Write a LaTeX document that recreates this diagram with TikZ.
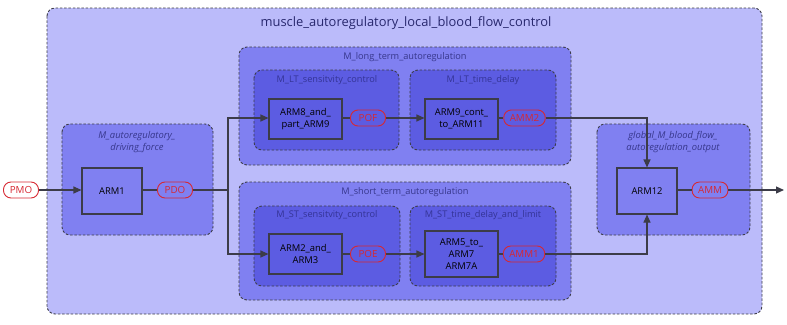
\documentclass[tikz,border=0pt]{standalone}
\usepackage{fontspec}
\setmainfont{Open Sans}
\usetikzlibrary{arrows.meta}
\definecolor{lvOne}{RGB}{187,187,250}
\definecolor{lvTwo}{RGB}{128,128,241}
\definecolor{lvThree}{RGB}{92,92,226}
\definecolor{edgeGrey}{RGB}{60,60,72}
\definecolor{titleBlue}{RGB}{40,40,110}
\definecolor{subBlue}{RGB}{55,55,140}
\definecolor{innerBlue}{RGB}{52,52,150}
\definecolor{sigRed}{RGB}{215,40,50}
\tikzset{
  grp/.style={draw=edgeGrey, dashed, dash pattern=on 2.5pt off 1.8pt, line width=0.9pt, rounded corners=8pt},
  blk/.style={draw=edgeGrey, line width=1.1pt, minimum width=60pt, minimum height=46pt, align=center, font=\fontsize{9.4}{12}\selectfont, text=black},
  sig/.style={draw=sigRed, line width=0.9pt, rounded corners=7.5pt, minimum width=35pt, minimum height=16pt, inner xsep=6pt, inner ysep=1pt, font=\fontsize{9.8}{10}\selectfont, text=sigRed},
  lbl/.style={font=\fontsize{9.2}{12}\selectfont, text=subBlue, align=center},
  ilbl/.style={lbl, text=innerBlue},
  itlbl/.style={lbl, font=\fontsize{9.4}{12.5}\selectfont\itshape},
  wire/.style={draw=edgeGrey, line width=1.1pt},
  arr/.style={wire, -{Triangle[length=8pt,width=7pt]}}
}
\begin{document}
\begin{tikzpicture}[x=1pt,y=-1pt]
\useasboundingbox (0,0) rectangle (787,324);
% containers
\draw[grp, fill=lvOne] (47,8) rectangle (762,314);
\node[font=\fontsize{12.9}{15}\selectfont, text=titleBlue] (title) at (406,23) {muscle\_autoregulatory\_local\_blood\_flow\_control};

\draw[grp, fill=lvTwo] (62,124) rectangle (213,235);
\node[itlbl] (drvlbl) at (137,142) {M\_autoregulatory\_\\driving\_force};

\draw[grp, fill=lvTwo] (239,47) rectangle (571,165);
\node[lbl] (ltlbl) at (405,57) {M\_long\_term\_autoregulation};
\draw[grp, fill=lvThree] (254,70) rectangle (399,150);
\node[ilbl] (ltslbl) at (327,80) {M\_LT\_sensitvity\_control};
\draw[grp, fill=lvThree] (410,70) rectangle (556,150);
\node[ilbl] (ltdlbl) at (483,80) {M\_LT\_time\_delay};

\draw[grp, fill=lvTwo] (239,182) rectangle (571,300);
\node[lbl] (stlbl) at (405,192) {M\_short\_term\_autoregulation};
\draw[grp, fill=lvThree] (254,206) rectangle (400,286);
\node[ilbl] (stslbl) at (327,215) {M\_ST\_sensitvity\_control};
\draw[grp, fill=lvThree] (410,206) rectangle (556,286);
\node[ilbl] (stdlbl) at (483,215) {M\_ST\_time\_delay\_and\_limit};

\draw[grp, fill=lvTwo] (597,124) rectangle (750,235);
\node[itlbl] (glblbl) at (673,142) {global\_M\_blood\_flow\_\\autoregulation\_output};

% blocks
\node[blk] (arm1) at (112,191) {ARM1};
\node[blk, minimum width=73pt, minimum height=40pt] (arm8) at (305.5,119) {ARM8\_and\_\\part\_ARM9};
\node[blk, minimum width=73pt, minimum height=40pt] (arm9) at (461.5,119) {ARM9\_cont\_\\to\_ARM11};
\node[blk, minimum width=73pt, minimum height=40pt] (arm2) at (305.5,254) {ARM2\_and\_\\ARM3};
\node[blk, minimum width=73pt, minimum height=46pt] (arm5) at (461.5,254) {ARM5\_to\_\\ARM7\\ARM7A};
\node[blk] (arm12) at (647,191) {ARM12};

% signals
\node[sig, fill=white] (pmo) at (21,190) {PMO};
\node[sig] (pdo) at (175,190) {PDO};
\node[sig] (pof) at (368,118) {POF};
\node[sig] (amm2) at (524.5,118) {AMM2};
\node[sig] (poe) at (368,254) {POE};
\node[sig] (amm1) at (524,254) {AMM1};
\node[sig] (amm) at (710,190) {AMM};
\coordinate (split) at (228,190);
\coordinate (out) at (784,190);

% connectors
\draw[arr] (pmo.east) -- (arm1.west |- pmo.east);
\draw[wire] (arm1.east |- pdo.west) -- (pdo.west);
\draw[wire] (pdo.east) -- (split);
\draw[arr] (split) |- (arm8.west |- pof.west);
\draw[arr] (split) |- (arm2.west |- poe.west);
\draw[wire] (arm8.east |- pof.west) -- (pof.west);
\draw[arr] (pof.east) -- (arm9.west |- pof.east);
\draw[wire] (arm9.east |- amm2.west) -- (amm2.west);
\draw[arr] (amm2.east) -| (arm12.north);
\draw[wire] (arm2.east |- poe.west) -- (poe.west);
\draw[arr] (poe.east) -- (arm5.west |- poe.east);
\draw[wire] (arm5.east |- amm1.west) -- (amm1.west);
\draw[arr] (amm1.east) -| (arm12.south);
\draw[wire] (arm12.east |- amm.west) -- (amm.west);
\draw[arr] (amm.east) -- (out);
\end{tikzpicture}
\end{document}
